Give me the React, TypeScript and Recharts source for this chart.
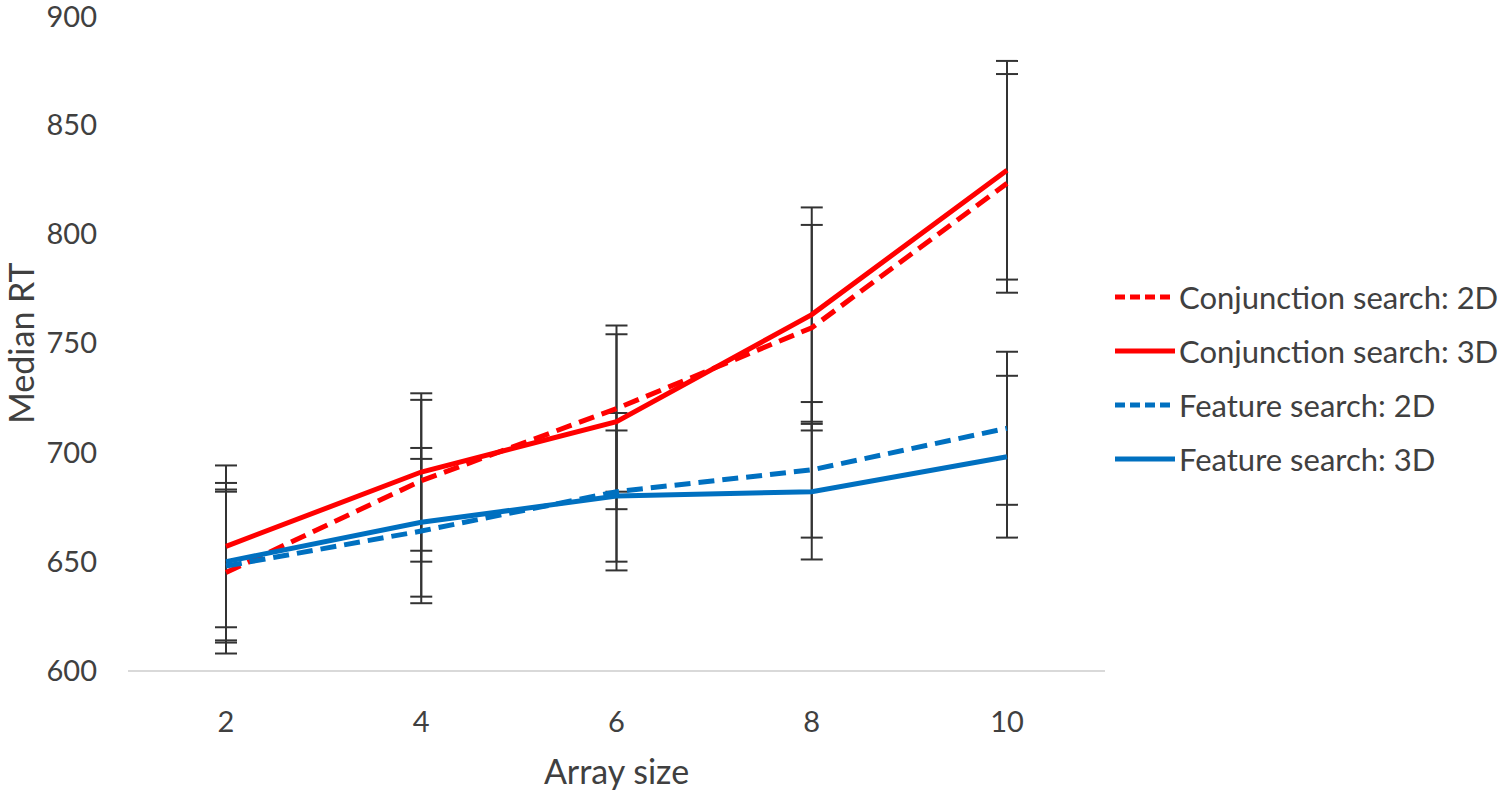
import { CartesianGrid, ErrorBar, Legend, Line, LineChart, XAxis, YAxis } from "recharts";

const sizes = [2, 4, 6, 8, 10];

const conj2d = [645, 687, 720, 757, 823];
const conj2dErr = [37, 37, 38, 47, 50];
const conj3d = [657, 691, 714, 763, 829];
const conj3dErr = [37, 36, 40, 49, 50];
const feat2d = [648, 664, 682, 692, 711];
const feat2dErr = [35, 33, 36, 31, 35];
const feat3d = [650, 668, 680, 682, 698];
const feat3dErr = [36, 34, 30, 31, 37];

const yTicks = [600, 650, 700, 750, 800, 850, 900];

const RED = "#FF0000";
const BLUE = "#0070C0";
const TEXT = "#404040";
const FONT = "Lato, 'Open Sans', sans-serif";

const series = [
  { key: "conj2d", name: "Conjunction search: 2D", color: RED, dashed: true },
  { key: "conj3d", name: "Conjunction search: 3D", color: RED, dashed: false },
  { key: "feat2d", name: "Feature search: 2D", color: BLUE, dashed: true },
  { key: "feat3d", name: "Feature search: 3D", color: BLUE, dashed: false },
];

const data = sizes.map((s, i) => ({
  size: s,
  conj2d: conj2d[i],
  conj2dErr: conj2dErr[i],
  conj3d: conj3d[i],
  conj3dErr: conj3dErr[i],
  feat2d: feat2d[i],
  feat2dErr: feat2dErr[i],
  feat3d: feat3d[i],
  feat3dErr: feat3dErr[i],
}));

function LegendBox() {
  return (
    <div style={{ fontFamily: FONT, color: TEXT, fontSize: 31 }}>
      {series.map((s) => (
        <div key={s.key} style={{ display: "flex", alignItems: "center", height: 54 }}>
          <svg width={64} height={10} style={{ flex: "none" }}>
            <line
              x1={2}
              y1={5}
              x2={62}
              y2={5}
              stroke={s.color}
              strokeWidth={5}
              strokeDasharray={s.dashed ? "10 5" : undefined}
            />
          </svg>
          <span style={{ whiteSpace: "nowrap", marginLeft: 2 }}>{s.name}</span>
        </div>
      ))}
    </div>
  );
}

export default function App() {
  return (
    <div style={{ position: "absolute", left: 0, top: 0, background: "#fff" }}>
      <LineChart
        width={1500}
        height={802}
        data={data}
        margin={{ top: 15, right: 395, bottom: 0, left: 0 }}
      >
        <CartesianGrid stroke="none" />
        <XAxis
          dataKey="size"
          type="category"
          height={131}
          padding={{ left: 98, right: 98 }}
          axisLine={{ stroke: "#D9D9D9", strokeWidth: 2 }}
          tickLine={false}
          tickSize={0}
          tickMargin={40}
          tick={{ fontSize: 29, fill: TEXT, fontFamily: FONT }}
          label={{
            content: ({ viewBox }: any) => (
              <text
                x={viewBox.x + viewBox.width / 2}
                y={viewBox.y + 113}
                textAnchor="middle"
                fontSize={34}
                fill={TEXT}
                fontFamily={FONT}
              >
                Array size
              </text>
            ),
          }}
        />
        <YAxis
          domain={[600, 900]}
          ticks={yTicks}
          width={128}
          axisLine={false}
          tickLine={false}
          tickSize={0}
          tickMargin={31}
          tick={{ fontSize: 29, fill: TEXT, fontFamily: FONT }}
          label={{
            content: ({ viewBox }: any) => {
              const cx = 20;
              const cy = viewBox.y + viewBox.height / 2;
              return (
                <text
                  x={cx}
                  y={cy}
                  textAnchor="middle"
                  dominantBaseline="central"
                  transform={`rotate(-90 ${cx} ${cy})`}
                  fontSize={34}
                  fill={TEXT}
                  fontFamily={FONT}
                >
                  Median RT
                </text>
              );
            },
          }}
        />
        <Legend
          layout="vertical"
          align="center"
          verticalAlign="middle"
          wrapperStyle={{ left: 1113, top: 270, width: 387 }}
          content={() => <LegendBox />}
        />
        {series.map((s) => (
          <Line
            key={`${s.key}-err`}
            dataKey={s.key}
            stroke="none"
            dot={false}
            activeDot={false}
            legendType="none"
            isAnimationActive={false}
          >
            <ErrorBar dataKey={`${s.key}Err`} width={11} stroke="#333" strokeWidth={2} direction="y" />
          </Line>
        ))}
        {series.map((s) => (
          <Line
            key={s.key}
            dataKey={s.key}
            name={s.name}
            type="linear"
            stroke={s.color}
            strokeWidth={5}
            strokeDasharray={s.dashed ? "16 8" : undefined}
            dot={false}
            activeDot={false}
            isAnimationActive={false}
          />
        ))}
      </LineChart>
    </div>
  );
}
